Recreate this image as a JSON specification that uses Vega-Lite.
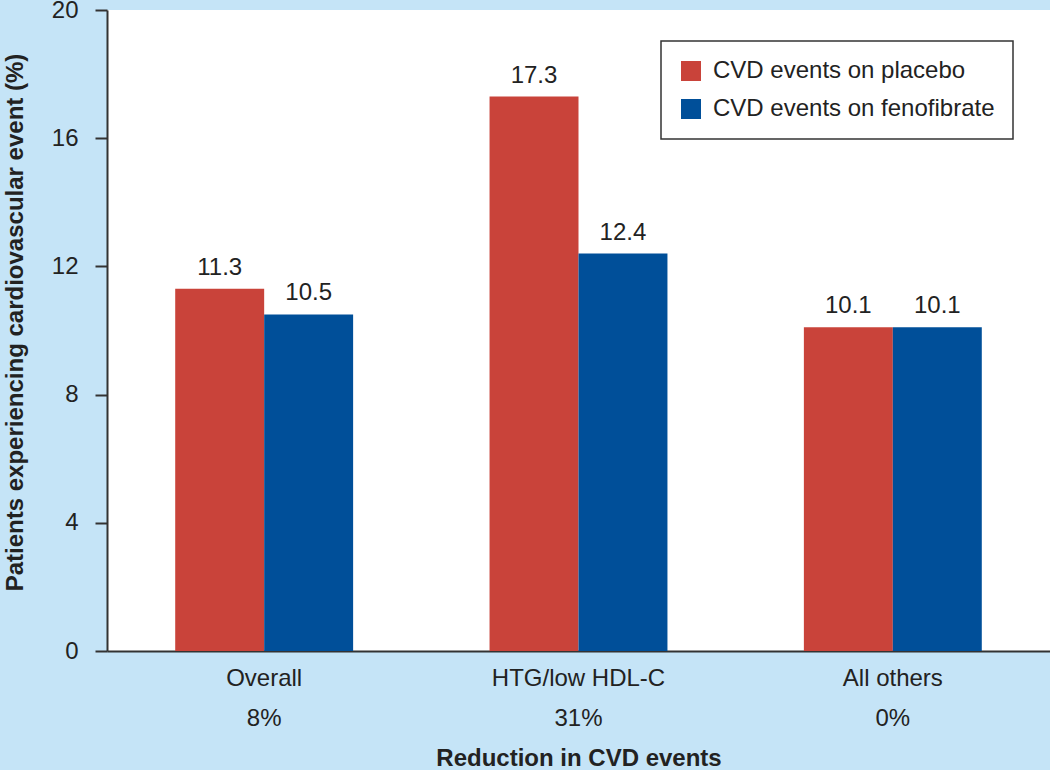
{
  "$schema": "https://vega.github.io/schema/vega-lite/v6.json",
  "width": 943,
  "height": 641,
  "autosize": {"type": "none"},
  "padding": {"left": 107, "top": 10, "right": 0, "bottom": 119},
  "background": "#c5e4f7",
  "config": {
    "view": {"fill": "white", "stroke": null},
    "font": "Liberation Sans",
    "axis": {"labelFont": "Liberation Sans", "titleFont": "Liberation Sans", "labelColor": "#222", "titleColor": "#222"},
    "legend": {"strokeWidth": 1.5}
  },
  "data": {
    "values": [
      {"group": "Overall|8%", "series": "CVD events on placebo", "value": 11.3},
      {"group": "Overall|8%", "series": "CVD events on fenofibrate", "value": 10.5},
      {"group": "HTG/low HDL-C|31%", "series": "CVD events on placebo", "value": 17.3},
      {"group": "HTG/low HDL-C|31%", "series": "CVD events on fenofibrate", "value": 12.4},
      {"group": "All others|0%", "series": "CVD events on placebo", "value": 10.1},
      {"group": "All others|0%", "series": "CVD events on fenofibrate", "value": 10.1}
    ]
  },
  "encoding": {
    "x": {
      "field": "group", "type": "nominal",
      "sort": ["Overall|8%", "HTG/low HDL-C|31%", "All others|0%"],
      "scale": {"paddingInner": 0.434, "paddingOuter": 0.217},
      "axis": {
        "title": "Reduction in CVD events",
        "labelAngle": 0,
        "labelExpr": "split(datum.value, '|')",
        "labelFontSize": 24,
        "labelLineHeight": 40,
        "labelPadding": 15,
        "ticks": false,
        "domainColor": "#333",
        "domainWidth": 2,
        "titleFontSize": 24,
        "titleFontWeight": "bold",
        "titlePadding": 16
      }
    },
    "xOffset": {"field": "series", "type": "nominal", "sort": ["CVD events on placebo", "CVD events on fenofibrate"]},
    "y": {
      "field": "value", "type": "quantitative",
      "scale": {"domain": [0, 20]},
      "axis": {
        "title": "Patients experiencing cardiovascular event (%)",
        "values": [0, 4, 8, 12, 16, 20],
        "grid": false,
        "domainColor": "#333",
        "domainWidth": 2,
        "tickColor": "#333",
        "tickWidth": 2,
        "tickSize": 12,
        "labelFontSize": 24,
        "labelPadding": 17,
        "titleFontSize": 24,
        "titleFontWeight": "bold",
        "titlePadding": 24,
        "titleY": 312
      }
    },
    "color": {
      "field": "series", "type": "nominal",
      "sort": ["CVD events on placebo", "CVD events on fenofibrate"],
      "scale": {"domain": ["CVD events on placebo", "CVD events on fenofibrate"], "range": ["#c9433a", "#004f99"]},
      "legend": {
        "title": null,
        "orient": "none",
        "legendX": 554,
        "legendY": 31,
        "fillColor": "white",
        "strokeColor": "#333",
        "padding": 18,
        "symbolType": "square",
        "symbolSize": 400,
        "symbolStrokeWidth": 0,
        "labelFontSize": 24,
        "labelColor": "#222",
        "labelLimit": 400,
        "rowPadding": 14,
        "labelOffset": 10
      }
    }
  },
  "layer": [
    {"mark": {"type": "bar"}},
    {
      "mark": {"type": "text", "baseline": "alphabetic", "dy": -14, "fontSize": 24, "color": "#222"},
      "encoding": {"text": {"field": "value", "type": "quantitative", "format": ".1f"}, "color": {"value": "#222"}}
    }
  ]
}
